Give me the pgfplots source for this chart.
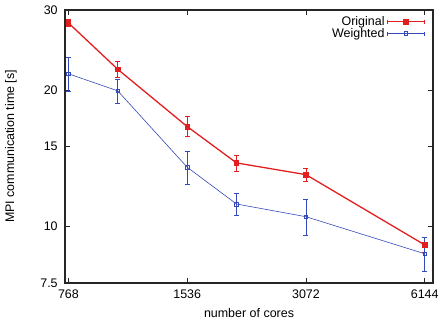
\documentclass[border=0pt]{standalone}
\usepackage{pgfplots}
\pgfplotsset{compat=1.18}
\usepackage{fontspec}
\setmainfont{Liberation Sans}
\definecolor{gred}{RGB}{226,30,32}
\definecolor{gblue}{RGB}{52,74,186}
\pgfplotstableread{
x y e
768 28.1 0.5
1024 22.2 0.95
1536 16.6 0.85
2048 13.8 0.55
3072 13.0 0.45
6144 9.1 0.35
}\original
\pgfplotstableread{
x y e
768 21.7 1.9
1024 19.9 1.2
1536 13.5 1.12
2048 11.2 0.63
3072 10.5 0.95
6144 8.7 0.75
}\weighted
\begin{document}
\fontsize{12.5}{14}\selectfont
\begin{tikzpicture}
\begin{axis}[
  scale only axis, width=368bp, height=273bp,
  xmode=log, ymode=log, log basis x=2,
  xmin=753, xmax=6449, ymin=7.5, ymax=30,
  xtick={768,1536,3072,6144}, xticklabels={768,1536,3072,6144},
  ytick={7.5,10,15,20,30}, yticklabels={7.5,10,15,20,30},
  minor xtick={}, minor ytick={},
  axis line style={line width=1.1pt, black!85},
  every tick/.style={black!85, line width=0.6pt},
  major tick length=5bp,
  tick align=inside,
  /pgf/number format/assume math mode=true,
  xticklabel style={yshift=-2bp},
  yticklabel style={xshift=-3bp},
  xlabel={number of cores},
  ylabel={MPI communication time [s]},
  xlabel style={at={(axis description cs:0.5,-0.11)}, anchor=center},
  ylabel style={at={(axis description cs:-0.147,0.5)}, anchor=center},
  legend plot pos=right,
  legend cell align=right,
  legend style={at={(axis description cs:1,1)}, anchor=north east, draw=none, fill=none,
    xshift=-6bp, yshift=-2bp, row sep=-3bp, inner sep=2bp},
  legend image code/.code={
    \draw[#1] (0bp,0bp) -- (37bp,0bp);
    \draw[#1, only marks] plot coordinates {(18.5bp,0bp)};
    \draw[#1, mark=none, line width=0.6pt] (0bp,-2bp) -- (0bp,2bp) (37bp,-2bp) -- (37bp,2bp);
  },
  error bars/error bar style={line width=0.8pt},
  error bars/error mark options={rotate=90, mark size=2.5bp, line width=0.8pt},
]
\addplot[gred, line width=1.3pt, mark=square*, mark size=2.3bp, mark options={solid, line width=0.6pt},
  error bars/.cd, y dir=both, y explicit]
  table[x=x, y=y, y error=e] {\original};
\addlegendentry{Original}
\addplot[gblue, line width=0.6pt, mark=square, mark size=1.8bp, mark options={solid, line width=0.6pt},
  error bars/.cd, y dir=both, y explicit]
  table[x=x, y=y, y error=e] {\weighted};
\addlegendentry{Weighted}
\end{axis}
\pgfresetboundingbox
\useasboundingbox (current axis.south west) ++(-65bp,-41bp) rectangle ++(439bp,324bp);
\end{tikzpicture}
\end{document}
